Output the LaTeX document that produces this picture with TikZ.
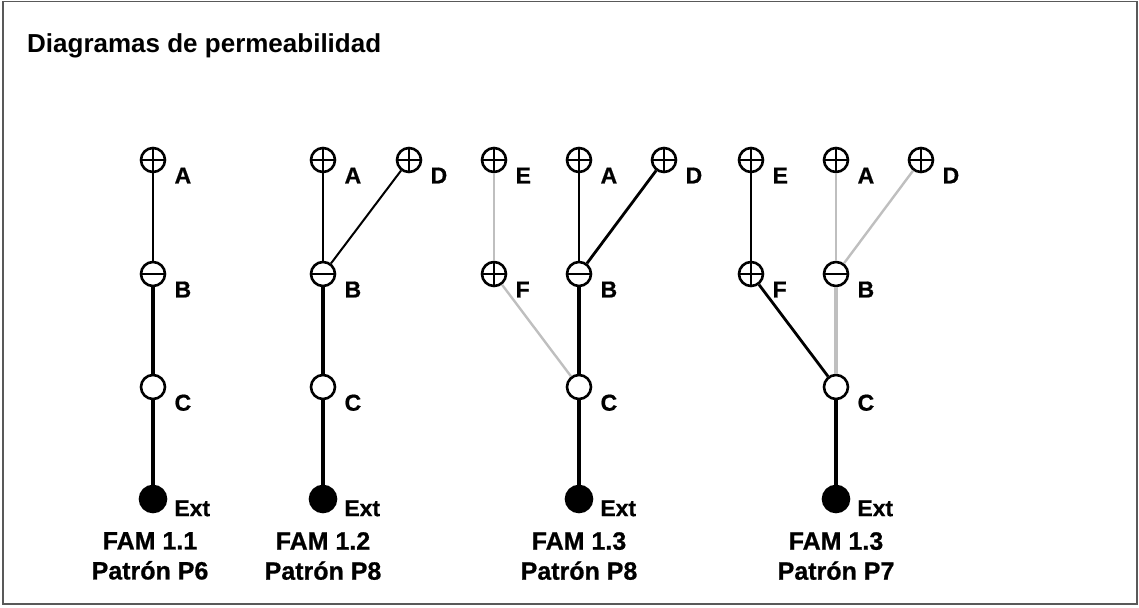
\documentclass[tikz,border=0pt]{standalone}
\usepackage{fontspec}
\setmainfont{Liberation Sans}
\newfontfamily\heavyfont{Liberation Sans Bold}[FakeBold=0.8]
\usetikzlibrary{positioning}
\definecolor{fadedgray}{gray}{0.75}
\tikzset{
	point/.style={
		draw, circle, line width=2.6pt, fill=white,
		minimum size=24pt, inner sep=0pt
	},
	pluspoint/.style={
		point,
		path picture = {
			\draw[line width=2pt]
			(path picture bounding box.west) --
			(path picture bounding box.east)
			(path picture bounding box.north) --
			(path picture bounding box.south);
		}
	},
	minuspoint/.style={
		point,
		path picture = {
			\draw[line width=2pt]
			(path picture bounding box.west) --
			(path picture bounding box.east);
		}
	},
	openpoint/.style={point},
	extpoint/.style={point, fill=black, minimum size=26pt},
	tag/.style={inner sep=0pt, xshift=12pt, yshift=2pt, font=\fontsize{23}{26}\heavyfont},
	exttag/.style={tag, xshift=-1pt, yshift=7pt},
	famlabel/.style={align=center, anchor=north, inner sep=0pt,
		font=\fontsize{25}{30}\heavyfont},
	weak/.style={line width=2pt},
	medium/.style={line width=2.8pt},
	strong/.style={line width=4.6pt},
	faded/.style={line width=2.4pt, fadedgray}
}

\begin{document}
\begin{tikzpicture}[x=1pt, y=-1pt]
  \useasboundingbox (0,0) rectangle (1139,607);
  \draw[black!65, line width=1.5pt] (3,1.5) rectangle (1137,604);
  \node[anchor=west, inner sep=0pt, font=\fontsize{26}{30}\selectfont\bfseries] (title) at (27,46) {Diagramas de permeabilidad};

  % FAM 1.1
  \node[pluspoint, label={[tag]below right:A}]  (A1) at (153,160) {};
  \node[minuspoint, label={[tag]below right:B}] (B1) at (153,274) {};
  \node[openpoint, label={[tag]below right:C}]  (C1) at (153,387) {};
  \node[extpoint, label={[exttag]below right:Ext}] (X1) at (153,499) {};
  \draw[weak]   (A1) -- (B1);
  \draw[strong] (B1) -- (C1);
  \draw[strong] (C1) -- (X1);
  \node[famlabel] (fam1) at (150,532) {FAM 1.1\\Patrón P6};

  % FAM 1.2
  \node[pluspoint, label={[tag]below right:A}]  (A2) at (323,160) {};
  \node[pluspoint, label={[tag]below right:D}]  (D2) at (409,160) {};
  \node[minuspoint, label={[tag]below right:B}] (B2) at (323,274) {};
  \node[openpoint, label={[tag]below right:C}]  (C2) at (323,387) {};
  \node[extpoint, label={[exttag]below right:Ext}] (X2) at (323,499) {};
  \draw[weak]   (A2) -- (B2);
  \draw[weak]   (D2) -- (B2);
  \draw[strong] (B2) -- (C2);
  \draw[strong] (C2) -- (X2);
  \node[famlabel] (fam2) at (323,532) {FAM 1.2\\Patrón P8};

  % FAM 1.3 (P8)
  \node[pluspoint, label={[tag]below right:E}]  (E3) at (494,160) {};
  \node[pluspoint, label={[tag]below right:A}]  (A3) at (579,160) {};
  \node[pluspoint, label={[tag]below right:D}]  (D3) at (664,160) {};
  \node[pluspoint, label={[tag]below right:F}]  (F3) at (494,274) {};
  \node[minuspoint, label={[tag]below right:B}] (B3) at (579,274) {};
  \node[openpoint, label={[tag]below right:C}]  (C3) at (579,387) {};
  \node[extpoint, label={[exttag]below right:Ext}] (X3) at (579,499) {};
  \draw[faded]  (E3) -- (F3);
  \draw[faded]  (F3) -- (C3);
  \draw[medium] (A3) -- (B3);
  \draw[medium] (D3) -- (B3);
  \draw[strong] (B3) -- (C3);
  \draw[strong] (C3) -- (X3);
  \node[famlabel] (fam3) at (579,532) {FAM 1.3\\Patrón P8};

  % FAM 1.3 (P7)
  \node[pluspoint, label={[tag]below right:E}]  (E4) at (751,160) {};
  \node[pluspoint, label={[tag]below right:A}]  (A4) at (836,160) {};
  \node[pluspoint, label={[tag]below right:D}]  (D4) at (921,160) {};
  \node[pluspoint, label={[tag]below right:F}]  (F4) at (751,274) {};
  \node[minuspoint, label={[tag]below right:B}] (B4) at (836,274) {};
  \node[openpoint, label={[tag]below right:C}]  (C4) at (836,387) {};
  \node[extpoint, label={[exttag]below right:Ext}] (X4) at (836,499) {};
  \draw[medium] (E4) -- (F4);
  \draw[medium] (F4) -- (C4);
  \draw[faded]  (A4) -- (B4);
  \draw[faded]  (D4) -- (B4);
  \draw[faded, line width=4.6pt] (B4) -- (C4);
  \draw[strong] (C4) -- (X4);
  \node[famlabel] (fam4) at (836,532) {FAM 1.3\\Patrón P7};
\end{tikzpicture}
\end{document}
